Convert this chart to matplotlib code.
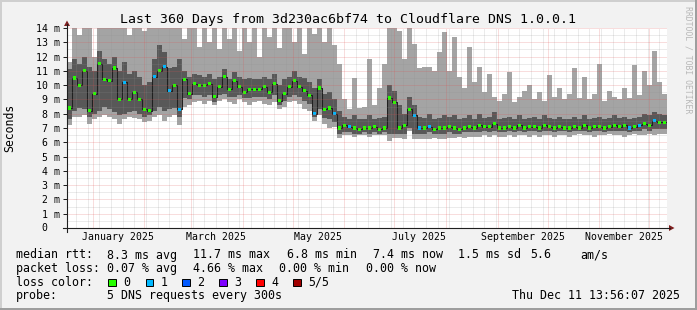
import numpy as np
import matplotlib
matplotlib.use("Agg")
import matplotlib.pyplot as plt
import matplotlib.dates as mdates
from matplotlib.ticker import MultipleLocator, FuncFormatter
from matplotlib.patches import Rectangle, Polygon
from matplotlib.lines import Line2D
from datetime import datetime

# ---- data (one value per 3-day step) ----
start = datetime(2024, 12, 16, 13, 56, 7)
step_days = 3

median_ms = [
    8.4, 10.5, 10.0, 11.0, 8.2, 9.4, 11.5, 10.4, 10.3, 11.2,
    9.0, 10.2, 9.0, 9.5, 9.0, 8.3, 8.2, 10.6, 11.0, 11.3,
    9.6, 10.0, 8.3, 10.4, 9.4, 10.1, 10.0, 10.0, 10.1, 9.2,
    9.9, 10.6, 9.7, 10.3, 9.9, 9.5, 9.7, 9.7, 9.7, 9.9,
    9.5, 10.1, 8.9, 9.4, 9.9, 10.3, 9.9, 9.6, 9.3, 8.0,
    9.8, 8.3, 8.4, 8.0, 7.0, 7.2, 7.1, 7.0, 6.9, 7.0,
    7.0, 7.1, 6.9, 7.0, 9.1, 8.8, 7.0, 7.2, 8.3, 7.9,
    7.0, 7.0, 7.1, 6.9, 7.0, 7.0, 7.1, 7.0, 6.9, 7.0,
    7.1, 7.0, 7.2, 7.1, 7.1, 7.3, 7.0, 7.0, 7.1, 7.0,
    7.2, 7.0, 7.1, 7.1, 7.0, 7.2, 7.1, 7.0, 7.1, 7.0,
    7.0, 7.1, 7.0, 7.2, 7.0, 7.1, 7.1, 7.0, 7.1, 7.2,
    7.1, 7.2, 7.0, 7.1, 7.2, 7.3, 7.2, 7.5, 7.4, 7.4,
]

loss_count = [
    0, 0, 0, 0, 0, 0, 0, 0, 0, 0,
    0, 1, 0, 0, 0, 0, 0, 1, 0, 1,
    1, 0, 1, 0, 0, 0, 0, 0, 0, 0,
    0, 0, 0, 0, 0, 0, 0, 0, 0, 0,
    0, 0, 0, 0, 0, 0, 0, 0, 0, 1,
    0, 0, 0, 1, 0, 0, 1, 0, 0, 0,
    0, 0, 0, 0, 0, 0, 0, 0, 0, 1,
    1, 0, 1, 0, 0, 0, 0, 0, 0, 0,
    0, 0, 0, 0, 0, 0, 0, 0, 0, 0,
    0, 0, 0, 0, 0, 0, 0, 0, 0, 0,
    0, 0, 0, 0, 0, 0, 0, 0, 0, 0,
    0, 0, 1, 0, 1, 0, 0, 1, 0, 0,
]

# smoke: outer (min..max) and inner (2nd..4th ping) envelopes
smoke_max = [
    11.6, 14.0, 13.5, 14.0, 14.0, 12.0, 14.0, 14.0, 14.0, 14.0,
    14.0, 14.0, 13.5, 14.0, 14.0, 13.8, 14.0, 14.0, 14.0, 14.0,
    14.0, 14.0, 14.0, 13.2, 14.0, 14.0, 12.7, 14.0, 13.0, 14.0,
    12.5, 14.0, 13.2, 14.0, 12.4, 14.0, 13.0, 14.0, 12.0, 14.0,
    13.4, 14.0, 12.6, 14.0, 14.0, 13.0, 14.0, 12.2, 14.0, 13.6,
    14.0, 13.0, 14.0, 12.8, 11.5, 9.0, 8.3, 10.5, 8.4, 8.5,
    11.8, 8.6, 9.8, 11.5, 14.0, 14.0, 13.8, 11.8, 14.0, 12.9,
    11.2, 11.3, 11.3, 11.0, 12.3, 13.7, 11.0, 13.4, 10.6, 9.8,
    12.7, 10.2, 11.3, 9.5, 10.8, 9.2, 8.9, 9.4, 10.9, 8.8,
    9.2, 9.6, 10.0, 9.0, 9.5, 8.9, 10.7, 9.2, 9.8, 9.0,
    9.4, 11.2, 9.1, 10.6, 9.0, 9.4, 11.5, 8.9, 9.6, 9.2,
    9.0, 9.8, 9.1, 11.4, 9.3, 11.0, 10.0, 12.4, 10.2, 9.4,
]

smoke_min = [
    7.2, 7.8, 7.8, 7.9, 7.3, 7.6, 7.8, 7.9, 7.8, 7.6,
    7.3, 7.6, 7.8, 7.7, 7.6, 7.4, 7.5, 7.8, 7.9, 7.5,
    7.8, 7.9, 7.2, 8.5, 8.6, 8.8, 8.9, 8.7, 8.9, 8.6,
    8.9, 9.0, 8.8, 8.7, 9.0, 8.8, 8.6, 8.8, 8.9, 8.7,
    8.6, 8.8, 8.3, 8.5, 8.8, 8.9, 8.7, 8.3, 8.2, 7.5,
    7.9, 7.3, 7.0, 7.1, 6.3, 6.5, 6.5, 6.4, 6.5, 6.5,
    6.4, 6.5, 6.5, 6.5, 6.1, 6.3, 6.3, 6.2, 6.8, 6.2,
    6.2, 6.2, 6.2, 6.3, 6.2, 6.2, 6.3, 6.3, 6.4, 6.3,
    6.4, 6.4, 6.4, 6.5, 6.4, 6.5, 6.4, 6.4, 6.5, 6.4,
    6.5, 6.5, 6.4, 6.5, 6.4, 6.5, 6.5, 6.4, 6.5, 6.5,
    6.4, 6.5, 6.6, 6.5, 6.5, 6.4, 6.5, 6.5, 6.6, 6.5,
    6.5, 6.4, 6.5, 6.6, 6.5, 6.5, 6.6, 6.5, 6.6, 6.6,
]

smoke_inner_lo = [
    7.6, 8.2, 8.4, 8.3, 7.8, 8.0, 8.2, 8.5, 8.3, 8.1,
    7.9, 8.0, 8.1, 8.2, 8.0, 7.8, 7.9, 8.2, 8.5, 8.2,
    8.3, 8.4, 7.8, 9.1, 9.0, 9.3, 9.3, 9.2, 9.3, 8.8,
    9.3, 9.4, 9.2, 9.2, 9.3, 9.1, 9.1, 9.2, 9.2, 9.2,
    9.0, 9.3, 8.6, 8.9, 9.2, 9.3, 9.2, 8.9, 8.7, 7.8,
    8.3, 7.7, 7.6, 7.4, 6.6, 6.7, 6.7, 6.6, 6.6, 6.7,
    6.6, 6.7, 6.6, 6.7, 6.6, 6.6, 6.6, 6.6, 7.0, 6.6,
    6.6, 6.6, 6.7, 6.6, 6.6, 6.6, 6.7, 6.6, 6.6, 6.7,
    6.7, 6.7, 6.7, 6.8, 6.7, 6.8, 6.7, 6.7, 6.8, 6.7,
    6.8, 6.7, 6.8, 6.8, 6.7, 6.8, 6.8, 6.7, 6.8, 6.8,
    6.7, 6.8, 6.8, 6.8, 6.7, 6.8, 6.8, 6.7, 6.8, 6.8,
    6.8, 6.8, 6.7, 6.8, 6.8, 6.9, 6.8, 6.9, 6.9, 6.9,
]

smoke_inner_hi = [
    11.1, 11.8, 11.5, 12.0, 11.3, 11.0, 12.4, 11.8, 11.5, 12.0,
    11.0, 11.6, 10.8, 11.0, 10.6, 10.0, 10.2, 11.8, 12.8, 12.3,
    11.2, 11.3, 11.8, 11.0, 10.6, 10.8, 10.7, 10.6, 10.8, 10.4,
    10.6, 11.1, 10.4, 10.9, 10.6, 10.4, 10.5, 10.4, 10.4, 10.6,
    10.4, 10.8, 10.0, 10.4, 10.6, 11.0, 10.6, 10.5, 10.2, 9.8,
    10.4, 9.4, 9.5, 9.0, 8.2, 7.8, 7.6, 7.9, 7.6, 7.6,
    7.9, 7.6, 7.7, 7.8, 10.0, 9.6, 8.6, 8.0, 9.2, 8.6,
    7.8, 7.7, 8.0, 7.6, 7.7, 7.9, 7.8, 7.9, 7.6, 7.7,
    7.9, 7.6, 8.0, 7.7, 7.8, 8.1, 7.6, 7.7, 7.8, 7.6,
    7.9, 7.6, 7.7, 7.8, 7.6, 7.9, 7.7, 7.6, 7.8, 7.6,
    7.6, 7.8, 7.6, 7.9, 7.6, 7.7, 7.8, 7.6, 7.7, 7.9,
    7.7, 7.8, 7.6, 7.7, 7.8, 8.0, 7.9, 8.1, 8.0, 7.9,
]

loss_colors = ['#26ff00', '#00b8ff', '#0059ff', '#7e00ff', '#ff0000', '#a10000']
loss_labels = ['0', '1', '2', '3', '4', '5/5']
month_labels = ['January 2025', 'March 2025', 'May 2025',
                'July 2025', 'September 2025', 'November 2025']
month_label_dates = [datetime(2025, m, 16) for m in (1, 3, 5, 7, 9, 11)]

# ---- figure ----
W, H = 697, 310
MONO = 'DejaVu Sans Mono'
fig = plt.figure(figsize=(W / 100, H / 100), dpi=100)
fig.patch.set_facecolor('#f2f2f2')


def fx(x):
    return x / W


def fy(y):
    return 1 - y / H


ax = fig.add_axes([fx(67), fy(228), 600 / W, 200 / H])
ax.set_facecolor('white')

t0 = mdates.date2num(start)
t = t0 + step_days * np.arange(len(median_ms))

ax.bar(t, np.array(smoke_max) - np.array(smoke_min), bottom=smoke_min,
       width=step_days, align='edge', color='#a4a4a4', lw=0, zorder=1)
ax.bar(t, np.array(smoke_inner_hi) - np.array(smoke_inner_lo), bottom=smoke_inner_lo,
       width=step_days, align='edge', color='#585858', lw=0, zorder=1.1)
ax.step(np.append(t, t[-1] + step_days), np.append(median_ms, median_ms[-1]),
        where='post', color='#202020', lw=0.75, zorder=1.5)
sq_cols = [loss_colors[k] for k in loss_count]
ax.bar(t + step_days / 2, 0.22, bottom=np.array(median_ms) - 0.11, width=2.0,
       color=sq_cols, lw=0, zorder=2)

ax.set_xlim(t0, t0 + 360)
ax.set_ylim(0, 14)

ax.xaxis.set_major_locator(mdates.MonthLocator())
ax.xaxis.set_minor_locator(mdates.WeekdayLocator(byweekday=mdates.SU))
ax.yaxis.set_major_locator(MultipleLocator(1))
ax.yaxis.set_minor_locator(MultipleLocator(0.5))
ax.set_axisbelow(False)
ax.grid(which='major', color=(0.87, 0.31, 0.31), alpha=0.38, lw=0.72, ls=(0, (1, 1)))
ax.grid(which='minor', color=(0.56, 0.56, 0.56), alpha=0.35, lw=0.72, ls=(0, (1, 1)))

for s in ax.spines.values():
    s.set_visible(False)
ax.tick_params(axis='x', which='both', length=0, labelbottom=False)
ax.tick_params(axis='y', which='minor', length=0)
ax.tick_params(axis='y', which='major', length=3, width=0.72, color='#1f1f1f',
               direction='out', pad=2, labelsize=7.1)
# the "0" label has no unit, so it sits where the digits of the others sit
ax.yaxis.set_major_formatter(FuncFormatter(lambda v, p: '' if v == 0 else f'{int(v)} m'))
for lab in ax.get_yticklabels():
    lab.set_family(MONO)
fig.text(fx(44.7), fy(228), '0', ha='center', va='center', family=MONO, fontsize=7.1)

for d, lab in zip(month_label_dates, month_labels):
    ax.text(mdates.date2num(d), (228 - 237.5) / 200, lab,
            transform=ax.get_xaxis_transform(), ha='center', va='center',
            family=MONO, fontsize=7.1)

# axis lines and arrows
fig.add_artist(Line2D([fx(63), fx(670)], [fy(228), fy(228)], color='#1f1f1f', lw=0.8))
fig.add_artist(Line2D([fx(67), fx(67)], [fy(232), fy(24)], color='#1f1f1f', lw=0.8))
arrow_col = (0.5, 0.12, 0.12)
fig.add_artist(Polygon([(fx(669), fy(225)), (fx(674.5), fy(228)), (fx(669), fy(231))],
                       closed=True, color=arrow_col, lw=0))
fig.add_artist(Polygon([(fx(64), fy(26)), (fx(67), fy(20.5)), (fx(70), fy(26))],
                       closed=True, color=arrow_col, lw=0))

# frame
fig.add_artist(Rectangle((0, fy(2)), 1, 2 / H, color='#cfcfcf', lw=0))
fig.add_artist(Rectangle((0, 0), 2 / W, 1, color='#cfcfcf', lw=0))
fig.add_artist(Rectangle((fx(695), 0), 2 / W, 1, color='#9e9e9e', lw=0))
fig.add_artist(Rectangle((0, 0), 1, 2 / H, color='#9e9e9e', lw=0))

# texts
fig.text(fx(348.5), fy(19), 'Last 360 Days from 3d230ac6bf74 to Cloudflare DNS 1.0.0.1',
         ha='center', va='center', family=MONO, fontsize=9.5)
fig.text(fx(10), fy(128), 'Seconds', rotation=90, ha='center', va='center',
         family=MONO, fontsize=8.3)
fig.text(fx(688), fy(6), 'RRDTOOL / TOBI OETIKER', rotation=270, ha='center', va='top',
         family=MONO, fontsize=5.9, color='#b8b8b8')

rows_y = [255, 268.5, 282.3, 295.8]
fs = 8.35
line1 = [(16, 'median rtt:'), (107.3, '8.3 ms avg'), (192.7, '11.7 ms max'),
         (286.7, '6.8 ms min'), (372.7, '7.4 ms now'), (458.3, '1.5 ms sd'),
         (530, '5.6'), (580, 'am/s')]
line2 = [(16, 'packet loss:'), (107.3, '0.07 % avg'), (192.7, '4.66 % max'),
         (279.3, '0.00 % min'), (366, '0.00 % now')]
for x, s in line1:
    fig.text(fx(x), fy(rows_y[0]), s, ha='left', va='center', family=MONO, fontsize=fs)
for x, s in line2:
    fig.text(fx(x), fy(rows_y[1]), s, ha='left', va='center', family=MONO, fontsize=fs)

fig.text(fx(16), fy(rows_y[2]), 'loss color:', ha='left', va='center', family=MONO, fontsize=fs)
box_x = [108.3, 145.7, 182.3, 219.3, 256, 293.3]
for bx, c, lab in zip(box_x, loss_colors, loss_labels):
    fig.add_artist(Rectangle((fx(bx), fy(rows_y[2] + 4)), 7.5 / W, 7.8 / H,
                             facecolor=c, edgecolor='black', lw=0.7))
    fig.text(fx(bx + 15), fy(rows_y[2]), lab, ha='left', va='center', family=MONO, fontsize=fs)

fig.text(fx(16), fy(rows_y[3]), 'probe:', ha='left', va='center', family=MONO, fontsize=fs)
fig.text(fx(107.3), fy(rows_y[3]), '5 DNS requests every 300s', ha='left', va='center',
         family=MONO, fontsize=fs)
fig.text(fx(680), fy(rows_y[3]), 'Thu Dec 11 13:56:07 2025', ha='right', va='center',
         family=MONO, fontsize=fs)

fig.savefig('out.png', dpi=100, facecolor=fig.get_facecolor())
